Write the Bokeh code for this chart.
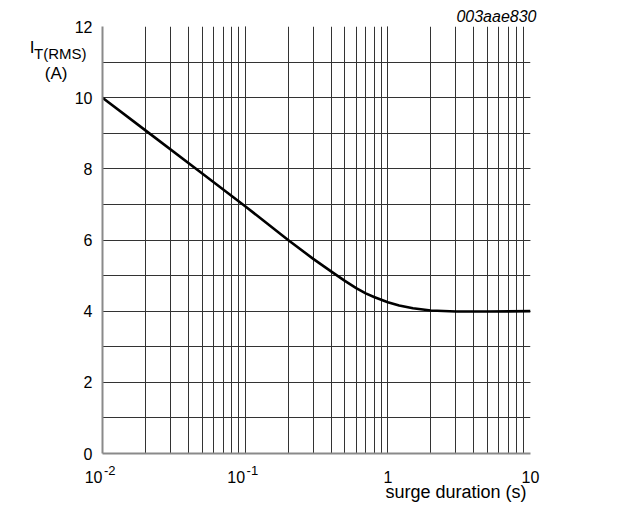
from bokeh.plotting import figure
from bokeh.models import (Range1d, LogTicker, SingleIntervalTicker, FixedTicker,
                          LinearAxis, LogAxis, Title, ColumnDataSource)
from bokeh.embed import file_html
from bokeh.resources import INLINE

# curve data
t_s = [0.01, 0.02, 0.05, 0.1, 0.2, 0.3, 0.4, 0.5, 0.6, 0.7, 0.8, 1.0, 1.2, 1.5, 2.0, 3.0, 5.0, 10.0]
i_a = [10.0, 9.08, 7.87, 6.95, 6.0, 5.47, 5.12, 4.85, 4.65, 4.5, 4.4, 4.25, 4.16, 4.08, 4.02, 3.99, 3.99, 4.0]

FS = "\u2007"  # figure space, keeps base and exponent apart
x_tick_base = {0.01: "10" + FS * 2, 0.1: "10" + FS * 2, 1: "1", 10: "10"}
x_tick_exp = {0.01: FS * 2 + "-2", 0.1: FS * 2 + "-1"}
y_title = "I"
y_title_sub = "T(RMS)"
y_unit = "(A)"
x_title = "surge duration (s)"
code = "003aae830"

FONT = "Liberation Sans"

p = figure(width=620, height=506, x_axis_type="log",
           x_range=Range1d(0.01, 10), y_range=Range1d(0, 12),
           output_backend="svg", toolbar_location=None,
           min_border_left=102, min_border_right=90, min_border_top=26, min_border_bottom=53)
p.outline_line_color = None
p.background_fill_color = "white"
p.border_fill_color = "white"

xax = p.xaxis[0]
yax = p.yaxis[0]
xax.ticker = LogTicker(num_minor_ticks=10, desired_num_ticks=4)
xax.major_label_overrides = x_tick_base
yax.ticker = SingleIntervalTicker(interval=2, num_minor_ticks=2)

def plain(ax):
    ax.major_tick_line_color = None
    ax.minor_tick_line_color = None
    ax.major_tick_out = 0
    ax.minor_tick_out = 0
    ax.major_tick_in = 0
    ax.minor_tick_in = 0
    ax.major_label_text_font = FONT
    ax.major_label_text_color = "black"

plain(xax)
plain(yax)
yax.axis_line_color = "#8a8a8a"
yax.axis_line_width = 2
yax.major_label_text_font_size = "16px"
yax.major_label_standoff = 10
xax.axis_line_color = None
xax.major_label_text_font_size = "16px"
xax.major_label_standoff = -12

# exponent axis: sits next to the frame, carries the bottom axis line
exp_ax = LogAxis(ticker=FixedTicker(ticks=list(x_tick_exp.keys()), minor_ticks=[]),
                 major_label_overrides=x_tick_exp)
plain(exp_ax)
exp_ax.axis_line_color = "#8a8a8a"
exp_ax.axis_line_width = 2
exp_ax.major_label_text_font_size = "13px"
exp_ax.major_label_standoff = 9

for g in (p.xgrid, p.ygrid):
    g.grid_line_color = "#333333"
    g.grid_line_width = 1
    g.grid_line_alpha = 1
    g.minor_grid_line_color = "#333333"
    g.minor_grid_line_width = 1
    g.minor_grid_line_alpha = 1

src = ColumnDataSource(dict(t=t_s, i=i_a))
p.line("t", "i", source=src, line_color="black", line_width=2.6, line_join="round")

# y axis title pieces as labels of text-only axes stacked on the left
def text_axis(pos, text, size, standoff):
    ax = LinearAxis(ticker=FixedTicker(ticks=[pos], minor_ticks=[]),
                    major_label_overrides={pos: text})
    plain(ax)
    ax.axis_line_color = None
    ax.major_label_text_font_size = size
    ax.major_label_standoff = standoff
    p.add_layout(ax, "left")

text_axis(10.67, y_unit, "17px", 4)
text_axis(11.23, y_title_sub, "15px", -45)
text_axis(11.40, y_title, "17px", -3)

x_title_obj = Title(text=x_title, align="left", offset=283, standoff=-18,
                    text_font=FONT, text_font_size="18px", text_font_style="normal",
                    text_color="black")
p.below = [exp_ax, xax, x_title_obj]
p.add_layout(Title(text=code, align="right", offset=-6, standoff=4,
                   text_font=FONT, text_font_size="16px", text_font_style="italic",
                   text_color="black"), "above")

open("out.html", "w").write(file_html(p, INLINE))
